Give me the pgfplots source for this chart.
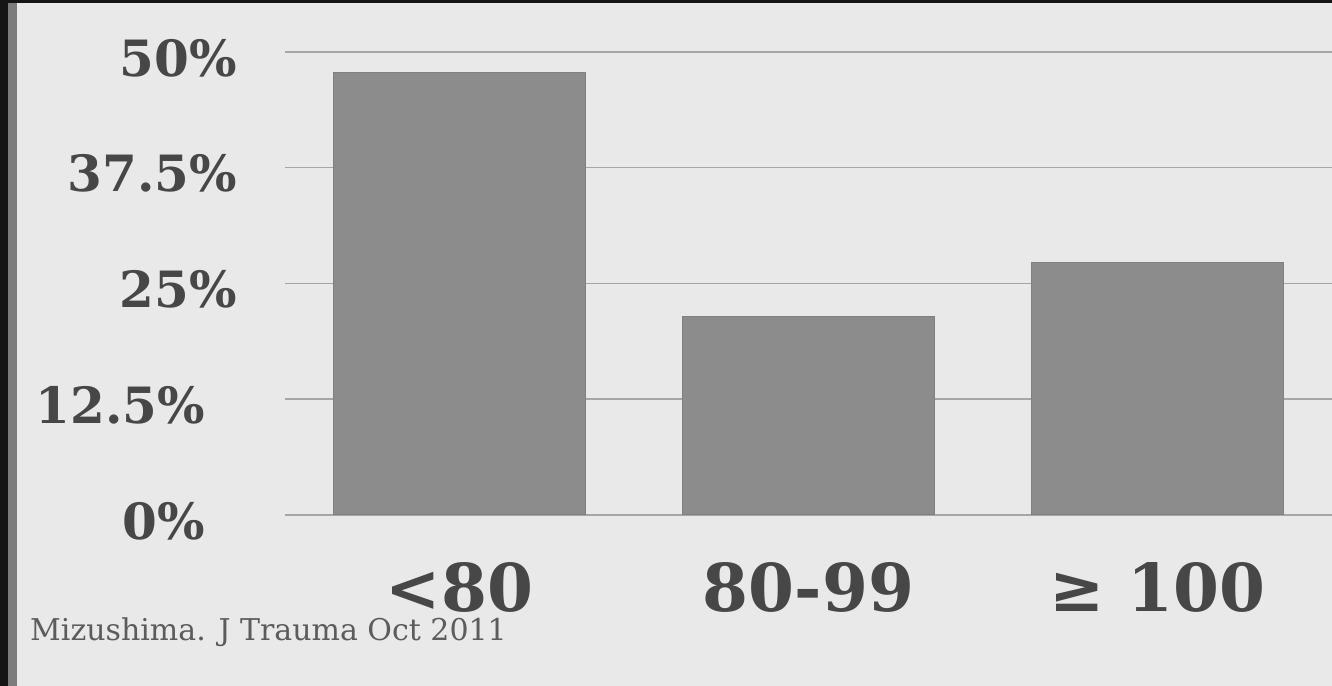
\documentclass[border=0pt]{standalone}
\usepackage{fontspec}
\setmainfont{DejaVu Serif}
\usepackage{pgfplots}
\pgfplotsset{compat=1.18}

\definecolor{slidebg}{HTML}{E9E9E9}
\definecolor{framedark}{HTML}{151515}
\definecolor{framegray}{HTML}{7C7C7C}
\definecolor{gridgray}{HTML}{A6A6A6}
\definecolor{barfill}{HTML}{8C8C8C}
\definecolor{baredge}{HTML}{808080}
\definecolor{labelgray}{HTML}{474747}
\definecolor{sourcegray}{HTML}{5C5C5C}

\begin{document}
\begin{tikzpicture}
% slide background and frame
\fill[slidebg] (0,0) rectangle (1332bp,686bp);
\fill[framedark] (0,0) rectangle (8bp,686bp);
\fill[framegray] (8bp,0) rectangle (17bp,686bp);
\fill[framedark] (0,683bp) rectangle (1332bp,686bp);

\begin{axis}[
  at={(285bp,171bp)}, anchor=south west,
  scale only axis, width=1047bp, height=463bp,
  xmin=-0.5, xmax=2.5, ymin=0, ymax=50,
  ybar, bar width=252bp,
  axis line style={draw=none},
  tick style={draw=none},
  ymajorgrids, major grid style={gridgray, line width=1.5bp},
  ytick={0,12.5,25,37.5,50},
  yticklabels={0\%\kern32bp,12.5\%\kern32bp,25\%,37.5\%,50\%},
  yticklabel style={font=\bfseries\fontsize{50bp}{50bp}\selectfont,
    text=labelgray, anchor=east, inner sep=0pt, xshift=-48bp, yshift=-6bp},
  xtick={0,1,2},
  xticklabels={<80,80-99,≥ 100},
  xticklabel style={font=\bfseries\fontsize{66bp}{66bp}\selectfont,
    text=labelgray, anchor=base, inner sep=0pt, text depth=0pt, yshift=-92bp},
]
\addplot[fill=barfill, draw=baredge, line width=1bp] coordinates {
  (0,47.8) (1,21.4) (2,27.3)
};
\end{axis}

\node[anchor=base west, inner sep=0pt, text=sourcegray,
  font=\fontsize{30bp}{30bp}\selectfont] at (30bp,45bp)
  {Mizushima. J Trauma Oct 2011};

\pgfresetboundingbox
\path[use as bounding box] (0,0) rectangle (1332bp,686bp);
\end{tikzpicture}
\end{document}
